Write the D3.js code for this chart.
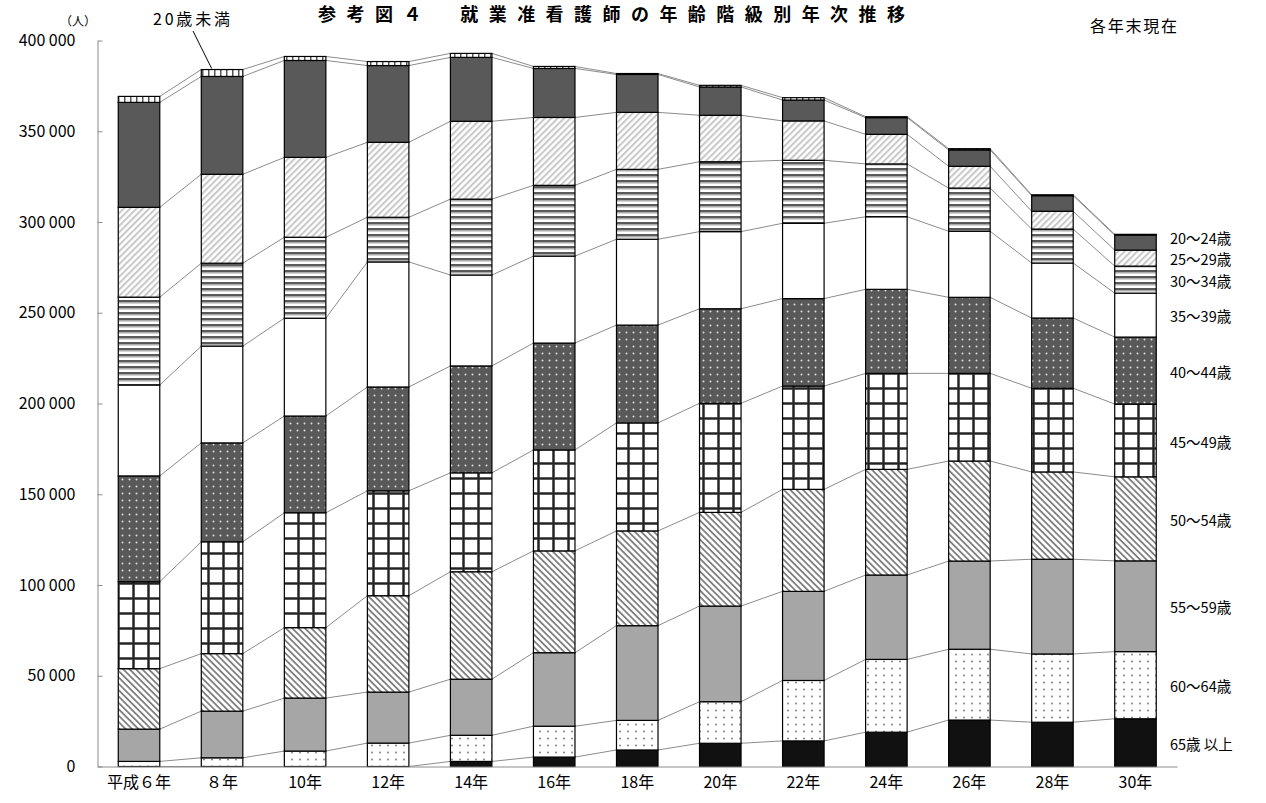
<!DOCTYPE html>
<html>
<head>
<meta charset="utf-8">
<script src="https://cdn.jsdelivr.net/npm/d3@7"></script>
<style>
  body { margin: 0; background: #fff; }
  svg { display: block; font-family: "Noto Sans CJK JP", "Noto Sans", sans-serif; }
</style>
</head>
<body>
<div id="chart"></div>
<script>
// 年（カテゴリ）
var years = ["平成６年", "８年", "10年", "12年", "14年", "16年", "18年", "20年", "22年", "24年", "26年", "28年", "30年"]

// 年齢階級別 就業准看護師数（人） 下から順
var age65over = [0, 0, 0, 0, 2800, 5200, 9100, 12800, 14100, 18900, 25600, 24400, 26300]
var age60_64 = [2800, 4800, 8500, 12900, 14400, 17000, 16300, 22900, 33300, 40100, 39000, 37600, 37000]
var age55_59 = [17800, 25700, 29200, 28100, 30900, 40500, 52200, 52700, 49100, 46500, 48600, 52200, 50000]
var age50_54 = [33300, 31700, 38800, 53100, 59200, 56100, 52200, 51600, 56200, 58200, 55100, 48100, 46300]
var age45_49 = [47900, 61600, 63300, 57800, 54500, 55600, 59500, 60100, 56900, 52900, 48300, 46100, 40100]
var age40_44 = [58300, 54500, 53300, 57200, 58900, 58900, 53900, 52100, 48200, 46300, 41900, 38700, 36900]
var age35_39 = [50100, 53300, 53900, 68900, 50100, 47900, 47300, 42500, 41500, 40000, 36400, 30300, 24200]
var age30_34 = [48400, 45700, 44600, 24600, 41800, 39000, 38500, 38500, 34700, 29100, 23800, 18700, 14900]
var age25_29 = [49500, 49000, 44000, 41300, 42900, 37400, 31400, 25600, 21700, 16300, 12000, 9800, 8800]
var age20_24 = [57800, 53900, 53400, 42300, 35200, 27000, 20900, 15600, 11500, 9200, 9000, 8600, 8200]
var ageUnder20 = [3300, 3800, 2200, 2200, 2200, 1100, 500, 900, 1300, 500, 700, 500, 500]

var seriesKeys = ["65歳以上", "60～64歳", "55～59歳", "50～54歳", "45～49歳", "40～44歳", "35～39歳", "30～34歳", "25～29歳", "20～24歳", "20歳未満"]
var seriesValues = [age65over, age60_64, age55_59, age50_54, age45_49, age40_44, age35_39, age30_34, age25_29, age20_24, ageUnder20]
var seriesLabels = ["65歳 以上", "60～64歳", "55～59歳", "50～54歳", "45～49歳", "40～44歳", "35～39歳", "30～34歳", "25～29歳", "20～24歳", "20歳未満"]

var yTicks = [0, 50000, 100000, 150000, 200000, 250000, 300000, 350000, 400000]

// 表を組み立てる
var rows = years.map(function (yr, i) {
  var r = { year: yr }
  seriesKeys.forEach(function (k, j) { r[k] = seriesValues[j][i] })
  return r
})

var width = 1266, height = 803

var svg = d3.select("#chart")
  .append("svg")
  .attr("width", width)
  .attr("height", height)

// 模様
var defs = svg.append("defs")

function pat(id, w, h, transform) {
  var p = defs.append("pattern")
    .attr("id", id)
    .attr("patternUnits", "userSpaceOnUse")
    .attr("width", w)
    .attr("height", h)
  if (transform) p.attr("patternTransform", transform)
  return p
}

// 65歳以上 黒
pat("p0", 4, 4).append("rect").attr("width", 4).attr("height", 4).attr("fill", "#111")

// 60～64 点
var p1 = pat("p1", 8, 7)
p1.append("rect").attr("width", 8).attr("height", 7).attr("fill", "#fff")
p1.append("circle").attr("cx", 4).attr("cy", 3.5).attr("r", 0.9).attr("fill", "#777")

// 55～59 灰
pat("p2", 4, 4).append("rect").attr("width", 4).attr("height", 4).attr("fill", "#a6a6a6")

// 50～54 斜線 ＼
var p3 = pat("p3", 4.5, 4.5, "rotate(-45)")
p3.append("rect").attr("width", 4.5).attr("height", 4.5).attr("fill", "#fff")
p3.append("rect").attr("width", 1.8).attr("height", 4.5).attr("fill", "#808080")

// 45～49 格子
var p4 = pat("p4", 15, 15)
p4.append("rect").attr("width", 15).attr("height", 15).attr("fill", "#fff")
p4.append("rect").attr("x", 12).attr("width", 3).attr("height", 15).attr("fill", "#999")
p4.append("rect").attr("y", 12).attr("width", 15).attr("height", 3).attr("fill", "#999")
p4.append("rect").attr("x", 12.5).attr("width", 2).attr("height", 15).attr("fill", "#222")
p4.append("rect").attr("y", 12.5).attr("width", 15).attr("height", 2).attr("fill", "#222")

// 40～44 濃灰に白点
var p5 = pat("p5", 7, 7)
p5.append("rect").attr("width", 7).attr("height", 7).attr("fill", "#595959")
p5.append("circle").attr("cx", 3.5).attr("cy", 3.5).attr("r", 1).attr("fill", "#ddd")

// 35～39 白
pat("p6", 4, 4).append("rect").attr("width", 4).attr("height", 4).attr("fill", "#fff")

// 30～34 横縞
var p7 = pat("p7", 6, 6)
p7.append("rect").attr("width", 6).attr("height", 6).attr("fill", "#fff")
p7.append("rect").attr("y", 0).attr("width", 6).attr("height", 2.5).attr("fill", "#5a5a5a")
p7.append("rect").attr("y", 2.5).attr("width", 6).attr("height", 1).attr("fill", "#aaa")

// 25～29 斜線 ／ 薄い
var p8 = pat("p8", 4.5, 4.5, "rotate(45)")
p8.append("rect").attr("width", 4.5).attr("height", 4.5).attr("fill", "#fff")
p8.append("rect").attr("width", 2).attr("height", 4.5).attr("fill", "#c8c8c8")

// 20～24 濃灰
pat("p9", 4, 4).append("rect").attr("width", 4).attr("height", 4).attr("fill", "#595959")

// 20歳未満 縦縞
var p10 = pat("p10", 6, 6)
p10.append("rect").attr("width", 6).attr("height", 6).attr("fill", "#fff")
p10.append("rect").attr("x", 4).attr("width", 1.5).attr("height", 6).attr("fill", "#555")

// 軸
var x = d3.scaleBand()
  .domain(years)
  .range([97.5, 1177])
  .paddingInner(0.5)
  .paddingOuter(0.25)

var y = d3.scaleLinear()
  .domain([0, 400000])
  .range([766.5, 40.5])

var stacked = d3.stack().keys(seriesKeys)(rows)
var bw = x.bandwidth()

// 系列線（棒の間をつなぐ）
stacked.forEach(function (layer) {
  layer.forEach(function (d, i) {
    if (i == years.length - 1) return
    var nx = layer[i + 1]
    svg.append("line")
      .attr("x1", x(years[i]) + bw)
      .attr("y1", y(d[1]))
      .attr("x2", x(years[i + 1]))
      .attr("y2", y(nx[1]))
      .style("stroke", "#8c8c8c")
      .style("stroke-width", 1)
  })
})

// 棒
stacked.forEach(function (layer, j) {
  svg.append("g")
    .selectAll("rect")
    .data(layer.filter(function (d) { return d[1] - d[0] > 0 }))
    .join("rect")
    .attr("x", function (d) { return x(d.data.year) })
    .attr("y", function (d) { return y(d[1]) })
    .attr("width", bw)
    .attr("height", function (d) { return y(d[0]) - y(d[1]) })
    .attr("fill", "url(#p" + j + ")")
    .attr("stroke", "#000")
    .attr("stroke-width", 1.2)
})

// y軸
var yAxis = svg.append("g")
  .attr("transform", "translate(97.5,0)")
  .call(d3.axisLeft(y)
    .tickValues(yTicks)
    .tickSizeInner(-5)
    .tickSizeOuter(0)
    .tickPadding(22)
    .tickFormat(function (d) { return d3.format(",")(d).replace(/,/g, " ") }))
yAxis.select(".domain").attr("stroke", "#8c8c8c")
yAxis.selectAll(".tick line").attr("stroke", "#8c8c8c")
yAxis.selectAll("text")
  .style("font-size", "16px")
  .attr("fill", "#000")
  .attr("font-family", "Noto Sans CJK JP")

// x軸
var xAxis = svg.append("g")
  .attr("transform", "translate(0,766.5)")
  .call(d3.axisBottom(x).tickSize(0).tickPadding(10))
xAxis.select(".domain").attr("stroke", "#8c8c8c")
xAxis.selectAll("text")
  .style("font-size", "16px")
  .attr("fill", "#000")
  .attr("font-family", "Noto Sans CJK JP")

// 右側の凡例ラベル（最終年の棒の中央、重なる時は上へずらす）
var lastIdx = years.length - 1
var prevY = null
stacked.forEach(function (layer, j) {
  if (j == stacked.length - 1) return
  var d = layer[lastIdx]
  var ly = y((d[0] + d[1]) / 2) + 2
  if (prevY != null && ly > prevY - 21) ly = prevY - 21
  prevY = ly
  svg.append("text")
    .attr("x", 1170)
    .attr("y", ly)
    .attr("dy", "0.35em")
    .text(seriesLabels[j])
    .style("font-size", "14.5px")
    .attr("fill", "#000")
})

// 20歳未満ラベルと引出線
var under = stacked[stacked.length - 1][1]
svg.append("line")
  .attr("x1", 193)
  .attr("y1", 31)
  .attr("x2", x(years[1]) + bw * 0.25)
  .attr("y2", y(under[1]) - 1)
  .style("stroke", "#000")
  .style("stroke-width", 1)

svg.append("text")
  .attr("x", 153)
  .attr("y", 25)
  .text("20歳未満")
  .style("font-size", "16px")
  .attr("textLength", 77)
  .attr("fill", "#000")

// 単位
svg.append("text")
  .attr("x", 60)
  .attr("y", 26)
  .text("（人）")
  .style("font-size", "12px")
  .attr("fill", "#000")

// タイトル
svg.append("text")
  .attr("x", 318)
  .attr("y", 21)
  .text("参考図４　就業准看護師の年齢階級別年次推移")
  .style("font-size", "18px")
  .attr("font-weight", "bold")
  .attr("textLength", 587)
  .attr("fill", "#000")

svg.append("text")
  .attr("x", 1090)
  .attr("y", 32)
  .text("各年末現在")
  .style("font-size", "16px")
  .attr("textLength", 87)
  .attr("fill", "#000")
</script>
</body>
</html>
